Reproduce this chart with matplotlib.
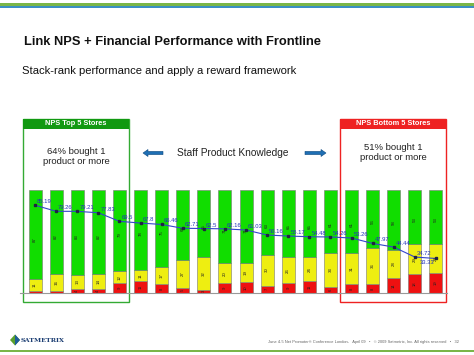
import matplotlib
matplotlib.use('Agg')
import matplotlib.pyplot as plt
from matplotlib.patches import Rectangle, Polygon, FancyArrow

plt.rcParams['font.family'] = ['Liberation Sans', 'DejaVu Sans']

# store ranking data (percent of customers)
stores = list(range(1, 21))
promoters = [87, 82, 83, 82, 79, 78, 75, 68, 65, 71, 71, 63, 65, 65, 61, 61, 56, 58, 53, 53]
passives = [11, 16, 13, 14, 12, 11, 17, 27, 32, 20, 19, 30, 26, 24, 33, 31, 36, 28, 29, 28]
detractors = [2, 2, 4, 4, 9, 11, 8, 5, 3, 9, 10, 7, 9, 11, 6, 8, 8, 14, 18, 19]
nps = [85.19, 79.26, 79.21, 77.83, 69.5, 67.8, 66.46, 62.71, 62.5, 62.16,
       61.03, 56.16, 55.17, 54.48, 54.26, 53.26, 47.97, 44.44, 34.72, 33.33]

GREEN = '#11dd00'
YELLOW = '#eeee11'
RED = '#ee1111'
W, H = 474, 355

fig = plt.figure(figsize=(W / 100, H / 100), dpi=100)

# slide decoration layer, pixel coordinates
bg = fig.add_axes([0, 0, 1, 1], zorder=0)
bg.set_xlim(0, W)
bg.set_ylim(H, 0)
bg.axis('off')

bg.add_patch(Rectangle((0, 2.5), W, 3.8, color='#7ab648', lw=0))
bg.add_patch(Rectangle((0, 6.3), W, 1.2, color='#3b8fc4', lw=0))
bg.add_patch(Rectangle((0, 349.5), W, 2.5, color='#7ab648', lw=0))

bg.text(24, 42, 'Link NPS + Financial Performance with Frontline', fontsize=9.3,
        fontweight='bold', va='center', ha='left', color='#111111')
bg.text(22, 71, 'Stack-rank performance and apply a reward framework', fontsize=8.1,
        va='center', ha='left', color='#111111')

# top / bottom store boxes
for x0, x1, col, head, l1, l2, ty in [(23, 129, '#33aa33', 'NPS Top 5 Stores', '64% bought 1', 'product or more', 151),
                                      (340, 446, '#ee2222', 'NPS Bottom 5 Stores', '51% bought 1', 'product or more', 147)]:
    bg.add_patch(Rectangle((x0, 118.5), x1 - x0, 302 - 118.5, fill=False, ec=col, lw=1))
    bg.add_patch(Rectangle((x0, 118.5), x1 - x0, 10, color=col if col != '#33aa33' else '#119911', lw=0))
    bg.text((x0 + x1) / 2, 123.8, head, fontsize=5.3, fontweight='bold', color='white',
            ha='center', va='center')
    bg.text((x0 + x1) / 2, ty, l1, fontsize=6.8, ha='center', va='center', color='#222222')
    bg.text((x0 + x1) / 2, ty + 11, l2, fontsize=6.8, ha='center', va='center', color='#222222')

bg.text(233, 153, 'Staff Product Knowledge', fontsize=7.3, ha='center', va='center', color='#222222')
bg.add_patch(FancyArrow(163, 153, -20, 0, width=3.2, head_width=7, head_length=5,
                        length_includes_head=True, fc='#1f6fb4', ec='#0e4a80', lw=0.4))
bg.add_patch(FancyArrow(305, 153, 21, 0, width=3.2, head_width=7, head_length=5,
                        length_includes_head=True, fc='#1f6fb4', ec='#0e4a80', lw=0.4))

# footer
bg.add_patch(Polygon([(10, 340), (15, 334.5), (20, 340), (15, 345.5)], color='#5aa02c', lw=0))
bg.add_patch(Polygon([(15, 334.5), (20, 340), (15, 345.5)], color='#1d5c9a', lw=0))
bg.text(21, 340.5, 'SATMETRIX', fontsize=4.6, fontweight='bold', color='#1d3f73',
        ha='left', va='center', family='DejaVu Serif')
bg.text(459, 342, 'June 4-5 Net Promoter\u00ae Conference London-   April 09   \u2022   '
        '\u00a9 2009 Satmetrix, Inc. All rights reserved   \u2022   32',
        fontsize=2.9, color='#666666', ha='right', va='center')

# stacked bars
ax = fig.add_axes([24.5 / W, (H - 292.7) / H, 422 / W, 102.7 / H], zorder=2)
ax.patch.set_alpha(0)
x = list(range(len(stores)))
bw = 0.62
ax.bar(x, detractors, bw, color=RED, edgecolor='#777777', lw=0.4)
ax.bar(x, passives, bw, bottom=detractors, color=YELLOW, edgecolor='#777777', lw=0.4)
bottoms = [d + p for d, p in zip(detractors, passives)]
ax.bar(x, promoters, bw, bottom=bottoms, color=GREEN, edgecolor='#777777', lw=0.4)

for i in x:
    ax.text(i, bottoms[i] + promoters[i] * 0.45, str(promoters[i]), rotation=90,
            fontsize=3.2, ha='center', va='center', color='#222222')
    ax.text(i, detractors[i] + passives[i] / 2, str(passives[i]), rotation=90,
            fontsize=3.2, ha='center', va='center', color='#222222')
    if detractors[i] >= 3:
        ax.text(i, detractors[i] / 2, str(detractors[i]), rotation=90,
                fontsize=3.0, ha='center', va='center', color='#222222')

ax.plot(x, nps, color='#3344cc', lw=0.8, marker='s', ms=1.5, mfc='#222244', mec='#222244')
for i in x:
    if i == len(x) - 1:
        ax.annotate(f'{nps[i]:g}', (i, nps[i]), xytext=(-1, -3), textcoords='offset points',
                    fontsize=4.2, color='#2233bb', ha='right', va='center')
    else:
        ax.annotate(f'{nps[i]:g}', (i, nps[i]), xytext=(1.5, 2.5), textcoords='offset points',
                    fontsize=4.2, color='#2233bb', ha='left', va='center')

ax.set_xlim(-0.5, len(x) - 0.5)
ax.set_ylim(0, 100)
ax.axhline(0, color='#999999', lw=0.8, xmin=-0.01, xmax=1.0, clip_on=False)
ax.axis('off')

fig.savefig('out.png', dpi=100)
